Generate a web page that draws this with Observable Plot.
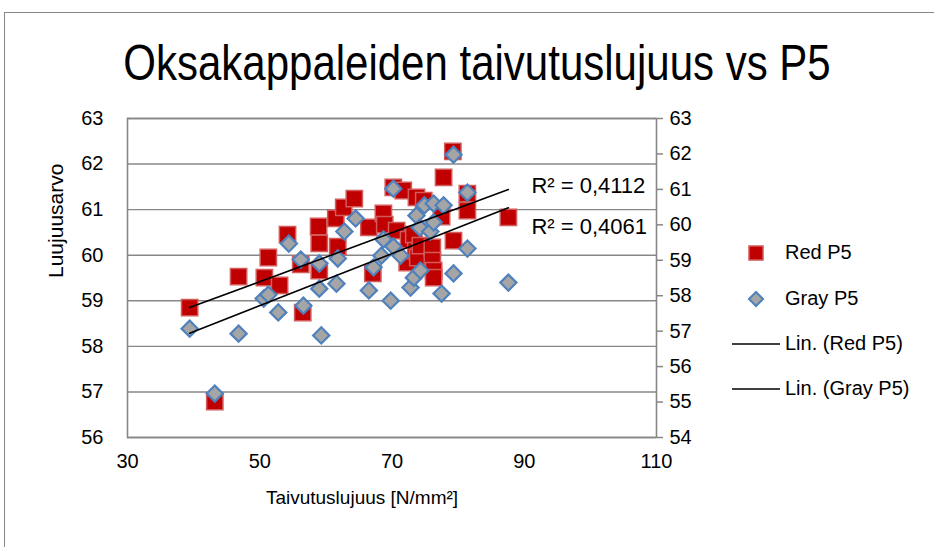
<!DOCTYPE html>
<html>
<head>
<meta charset="utf-8">
<script src="https://cdn.jsdelivr.net/npm/d3@7"></script>
<script src="https://cdn.jsdelivr.net/npm/@observablehq/plot@0.6"></script>
<style>
  html, body { margin: 0; padding: 0; background: #fff; overflow: hidden; }
  body { width: 934px; height: 547px; position: relative; font-family: 'Liberation Sans', Arial, sans-serif; }
  #border { position: absolute; left: 4px; top: 12px; width: 1000px; height: 600px; border: 1px solid #868686; box-sizing: border-box; }
  #title { position: absolute; left: 0; width: 954px; top: 38px; text-align: center; font-family: 'Liberation Sans', Arial, sans-serif; font-size: 50px; line-height: 50px; color: #000; transform: scaleX(0.84); transform-origin: 477px 0; }
  #chart { position: absolute; left: 0; top: 100px; }
  .leg { position: absolute; font-size: 20px; line-height: 20px; color: #000; white-space: nowrap; }
  .legsym { position: absolute; }
</style>
</head>
<body>
<div id="border"></div>
<div id="title"></div>
<div id="chart"></div>
<div id="legend"></div>
<script>
// ---- data ----
const titleText = "Oksakappaleiden taivutuslujuus vs P5";
const xLabel = "Taivutuslujuus [N/mm²]";
const yLabel = "Luujuusarvo";
const seriesNames = ["Red P5", "Gray P5", "Lin. (Red P5)", "Lin. (Gray P5)"];

const xTicks = [30, 50, 70, 90, 110];
const leftDomain = [56, 63];
const rightDomain = [54, 63];
const leftTicks = [56, 57, 58, 59, 60, 61, 62, 63];
const rightTicks = [54, 55, 56, 57, 58, 59, 60, 61, 62, 63];

const redX = [39.4, 43.2, 46.8, 50.7, 51.3, 53.0, 54.2, 56.2, 56.5, 58.9, 59.0, 59.0, 61.5, 61.8, 62.7, 64.3, 66.5, 67.1, 68.7, 68.9, 70.2, 70.7, 71.7, 72.3, 72.5, 73.3, 73.6, 73.7, 73.9, 74.3, 74.8, 76.1, 76.1, 76.3, 76.3, 77.5, 77.8, 79.2, 79.3, 81.4, 81.4, 87.6];
const redY = [58.85, 56.79, 59.53, 59.51, 59.95, 59.34, 60.45, 59.80, 58.74, 60.63, 60.26, 59.66, 60.81, 60.19, 61.05, 61.24, 60.61, 59.60, 60.92, 60.67, 61.49, 60.54, 61.42, 59.84, 60.34, 60.45, 60.10, 61.27, 59.95, 60.21, 61.20, 60.17, 59.88, 59.66, 59.51, 60.85, 61.71, 62.28, 60.32, 61.35, 60.98, 60.83];

const grayX = [39.4, 43.2, 46.8, 50.6, 51.3, 52.8, 54.4, 56.2, 56.6, 59.0, 59.0, 59.3, 61.6, 61.8, 62.8, 64.5, 66.5, 67.2, 68.4, 68.7, 69.8, 70.2, 70.2, 71.3, 72.8, 73.3, 73.7, 74.2, 74.3, 74.9, 75.8, 76.3, 76.3, 77.5, 77.8, 79.3, 79.3, 81.4, 81.4, 87.6];
const grayY = [57.07, 55.24, 56.93, 57.92, 58.03, 57.53, 59.47, 59.02, 57.72, 58.91, 58.20, 56.88, 58.34, 59.05, 59.81, 60.18, 58.15, 58.80, 59.13, 59.59, 57.86, 61.02, 59.39, 59.13, 58.23, 58.51, 60.26, 59.92, 58.71, 60.55, 59.81, 60.60, 60.07, 58.06, 60.55, 58.63, 61.98, 60.91, 59.33, 58.37];

// Excel linear trendlines, read at their two ends
const trendX = [39.4, 87.6];
const redTrendY = [58.85, 61.44];
const grayTrendY = [56.94, 60.48];
const r2Texts = ["R² = 0,4112", "R² = 0,4061"];

// ---- build tables ----
const toLeft = v => leftDomain[0] + (v - rightDomain[0]) * (leftDomain[1] - leftDomain[0]) / (rightDomain[1] - rightDomain[0]);
const fromLeft = v => rightDomain[0] + (v - leftDomain[0]) * (rightDomain[1] - rightDomain[0]) / (leftDomain[1] - leftDomain[0]);

const red = redX.map((x, i) => ({x, y: redY[i]}));
const gray = grayX.map((x, i) => ({x, y: toLeft(grayY[i])}));
const redTrend = trendX.map((x, i) => ({x, y: redTrendY[i]}));
const grayTrend = trendX.map((x, i) => ({x, y: toLeft(grayTrendY[i])}));
const r2Red = [{x: trendX[1], y: redTrendY[1], t: r2Texts[0]}];
const r2Gray = [{x: trendX[1], y: toLeft(grayTrendY[1]), t: r2Texts[1]}];

const RED = "#C00000", RED_EDGE = "#d25a5a", GRAY = "#A5A5A5", BLUE = "#4F81BD", GRID = "#878787";

document.getElementById("title").textContent = titleText;

const chart = Plot.plot({
  width: 934,
  height: 447,
  marginLeft: 127,
  marginRight: 278,
  marginTop: 18,
  marginBottom: 110,
  style: {fontFamily: "'Liberation Sans', Arial, sans-serif", fontSize: "20px", color: "#000", background: "transparent", overflow: "visible"},
  x: {domain: [xTicks[0], xTicks[xTicks.length - 1]]},
  y: {domain: leftDomain},
  marks: [
    Plot.ruleY(leftTicks, {stroke: GRID, strokeWidth: 1.4}),
    Plot.frame({stroke: GRID, strokeWidth: 1.6}),
    Plot.axisX(xTicks, {tickSize: 0, tickPadding: 16, label: null, fontSize: 20}),
    Plot.axisY(leftTicks, {tickSize: 0, tickPadding: 24, label: null, fontSize: 20}),
    Plot.axisY(rightTicks.map(toLeft), {anchor: "right", tickSize: 6, tickPadding: 7, stroke: GRID, strokeWidth: 1.5, tickFormat: d => Math.round(fromLeft(d)), label: null, fontSize: 20}),
    Plot.text([xLabel], {frameAnchor: "bottom", dy: 66, dx: -30, fontSize: 19}),
    Plot.text([yLabel], {frameAnchor: "left", dx: -71, rotate: -90, fontSize: 21}),
    Plot.dot(red, {x: "x", y: "y", symbol: "square", r: 9.2, fill: RED, stroke: RED_EDGE, strokeWidth: 1.5}),
    Plot.dot(gray, {x: "x", y: "y", symbol: "diamond2", r: 7.3, fill: GRAY, stroke: BLUE, strokeWidth: 2.2}),
    Plot.line(redTrend, {x: "x", y: "y", stroke: "#000", strokeWidth: 1.6}),
    Plot.line(grayTrend, {x: "x", y: "y", stroke: "#000", strokeWidth: 1.6}),
    Plot.text(r2Red, {x: "x", y: "y", text: "t", textAnchor: "start", dx: 23, dy: -4, fontSize: 22}),
    Plot.text(r2Gray, {x: "x", y: "y", text: "t", textAnchor: "start", dx: 23, dy: 19, fontSize: 22})
  ]
});
document.getElementById("chart").appendChild(chart);

// ---- legend ----
const legend = document.getElementById("legend");
const legY = [253, 299, 344, 389];
const ns = "http://www.w3.org/2000/svg";
seriesNames.forEach((name, i) => {
  const sym = document.createElementNS(ns, "svg");
  sym.setAttribute("class", "legsym");
  sym.setAttribute("width", 50);
  sym.setAttribute("height", 20);
  sym.style.left = "731px";
  sym.style.top = (legY[i] - 10) + "px";
  let el;
  if (i === 0) {
    el = document.createElementNS(ns, "rect");
    el.setAttribute("x", 18); el.setAttribute("y", 3); el.setAttribute("width", 14); el.setAttribute("height", 14);
    el.setAttribute("fill", RED); el.setAttribute("stroke", RED_EDGE); el.setAttribute("stroke-width", 1.5);
  } else if (i === 1) {
    el = document.createElementNS(ns, "path");
    el.setAttribute("d", "M25,3 L32,10 L25,17 L18,10 Z");
    el.setAttribute("fill", GRAY); el.setAttribute("stroke", BLUE); el.setAttribute("stroke-width", 2);
  } else {
    el = document.createElementNS(ns, "line");
    el.setAttribute("x1", 1); el.setAttribute("x2", 49); el.setAttribute("y1", 10); el.setAttribute("y2", 10);
    el.setAttribute("stroke", "#000"); el.setAttribute("stroke-width", 1.6);
  }
  sym.appendChild(el);
  legend.appendChild(sym);
  const t = document.createElement("div");
  t.className = "leg";
  t.textContent = name;
  t.style.left = "785px";
  t.style.top = (legY[i] - 11) + "px";
  legend.appendChild(t);
});
</script>
</body>
</html>
